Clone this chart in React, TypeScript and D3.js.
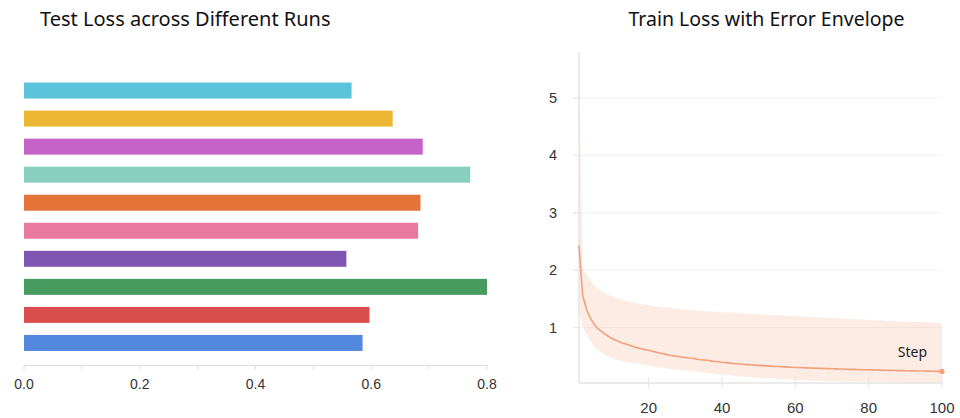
import React from "react";
import * as d3 from "d3";

const runs = ["Run 10", "Run 9", "Run 8", "Run 7", "Run 6", "Run 5", "Run 4", "Run 3", "Run 2", "Run 1"];
const testLoss = [0.566, 0.637, 0.689, 0.771, 0.685, 0.681, 0.557, 0.8, 0.597, 0.585];
const barColors = ["#5bc4da", "#ecb732", "#c563c7", "#88cfc0", "#e4733a", "#e87aa0", "#7f55b1", "#479b5f", "#da4d4d", "#5488de"];
const barTicks = [0, 0.1, 0.2, 0.3, 0.4, 0.5, 0.6, 0.7, 0.8];
const barTickLabels = [0, 0.2, 0.4, 0.6, 0.8];

const steps = d3.range(1, 101);
const meanLoss = [
  2.43, 1.56, 1.33, 1.18, 1.07, 0.99, 0.94, 0.89, 0.85, 0.81,
  0.78, 0.755, 0.73, 0.712, 0.69, 0.668, 0.648, 0.632, 0.617, 0.605,
  0.59, 0.574, 0.56, 0.546, 0.53, 0.516, 0.507, 0.497, 0.49, 0.481,
  0.472, 0.466, 0.452, 0.441, 0.437, 0.431, 0.421, 0.41, 0.406, 0.396,
  0.391, 0.386, 0.376, 0.371, 0.366, 0.36, 0.356, 0.353, 0.348, 0.343,
  0.339, 0.335, 0.33, 0.326, 0.323, 0.319, 0.316, 0.313, 0.31, 0.307,
  0.305, 0.302, 0.3, 0.297, 0.295, 0.293, 0.29, 0.288, 0.287, 0.284,
  0.282, 0.28, 0.279, 0.276, 0.274, 0.273, 0.27, 0.268, 0.268, 0.266,
  0.264, 0.262, 0.261, 0.258, 0.257, 0.256, 0.254, 0.252, 0.252, 0.25,
  0.249, 0.247, 0.246, 0.245, 0.244, 0.242, 0.241, 0.24, 0.239, 0.237,
];
const upperLoss = [
  5.8, 2.05, 1.92, 1.83, 1.75, 1.69, 1.64, 1.6, 1.57, 1.55,
  1.52, 1.5, 1.48, 1.465, 1.45, 1.435, 1.42, 1.41, 1.4, 1.39,
  1.38, 1.37, 1.36, 1.355, 1.35, 1.34, 1.335, 1.33, 1.32, 1.315,
  1.31, 1.305, 1.3, 1.295, 1.29, 1.285, 1.28, 1.277, 1.273, 1.27,
  1.266, 1.262, 1.258, 1.254, 1.25, 1.246, 1.242, 1.238, 1.234, 1.23,
  1.227, 1.224, 1.221, 1.218, 1.215, 1.212, 1.209, 1.206, 1.203, 1.2,
  1.197, 1.194, 1.19, 1.186, 1.182, 1.178, 1.175, 1.172, 1.169, 1.166,
  1.163, 1.16, 1.157, 1.154, 1.151, 1.148, 1.145, 1.142, 1.139, 1.136,
  1.133, 1.13, 1.127, 1.124, 1.121, 1.118, 1.115, 1.112, 1.109, 1.106,
  1.103, 1.1, 1.098, 1.096, 1.094, 1.092, 1.09, 1.088, 1.086, 1.084,
];
const lowerLoss = [
  1.3, 1.02, 0.88, 0.77, 0.69, 0.62, 0.57, 0.53, 0.5, 0.47,
  0.45, 0.43, 0.415, 0.4, 0.39, 0.38, 0.37, 0.36, 0.35, 0.34,
  0.33, 0.32, 0.31, 0.3, 0.29, 0.28, 0.275, 0.27, 0.26, 0.255,
  0.25, 0.24, 0.235, 0.225, 0.22, 0.21, 0.205, 0.195, 0.19, 0.18,
  0.175, 0.168, 0.162, 0.156, 0.15, 0.145, 0.14, 0.135, 0.13, 0.126,
  0.122, 0.118, 0.114, 0.11, 0.107, 0.104, 0.101, 0.098, 0.095, 0.092,
  0.09, 0.087, 0.085, 0.083, 0.081, 0.079, 0.077, 0.075, 0.073, 0.071,
  0.07, 0.068, 0.066, 0.065, 0.063, 0.062, 0.06, 0.059, 0.058, 0.056,
  0.055, 0.054, 0.053, 0.052, 0.051, 0.05, 0.049, 0.048, 0.047, 0.046,
  0.045, 0.044, 0.043, 0.042, 0.041, 0.04, 0.039, 0.038, 0.037, 0.036,
];
const lossTicksY = [1, 2, 3, 4, 5];
const stepTicks = [20, 40, 60, 80, 100];

const TITLE_FONT = "'Noto Sans', 'Open Sans', sans-serif";
const TICK_FONT = "'Liberation Sans', Arial, sans-serif";

export default function App() {
  // Left bar chart
  const xBar = d3.scaleLinear().domain([0, 0.8]).range([24, 487]);
  const yBar = d3.scaleBand<string>().domain(runs).range([70.5, 363]).paddingInner(0.43).paddingOuter(0.43);
  const barAxisY = 365.5;

  // Right line chart
  const xLine = d3.scaleLinear().domain([1, 100]).range([579, 942]);
  const yLine = d3
    .scaleLinear()
    .domain([d3.min(lowerLoss) as number, d3.max(upperLoss) as number])
    .range([383, 52]);
  const idx = steps.map((_, i) => i);
  const area = d3
    .area<number>()
    .x((i) => xLine(steps[i]))
    .y0((i) => yLine(lowerLoss[i]))
    .y1((i) => yLine(upperLoss[i]));
  const line = d3
    .line<number>()
    .x((i) => xLine(steps[i]))
    .y((i) => yLine(meanLoss[i]));
  const last = steps.length - 1;

  return (
    <svg width={960} height={418} style={{ position: "absolute", left: 0, top: 0, background: "#fff" }}>
      {/* Left chart */}
      <text x={40} y={25.5} fontFamily={TITLE_FONT} fontSize={20} fill="#111">
        Test Loss across Different Runs
      </text>
      {runs.map((r, i) => (
        <rect
          key={r}
          x={xBar(0)}
          y={yBar(r)}
          width={xBar(testLoss[i]) - xBar(0)}
          height={yBar.bandwidth()}
          fill={barColors[i]}
        />
      ))}
      <line x1={xBar(0)} x2={xBar(0.8)} y1={barAxisY} y2={barAxisY} stroke="#dcdcdc" strokeWidth={1} />
      {barTicks.map((t) => (
        <line key={t} x1={xBar(t)} x2={xBar(t)} y1={barAxisY} y2={barAxisY + 4} stroke="#dcdcdc" />
      ))}
      {barTickLabels.map((t) => (
        <text key={t} x={xBar(t)} y={389} textAnchor="middle" fontFamily={TICK_FONT} fontSize={14} fill="#333">
          {t.toFixed(1)}
        </text>
      ))}

      {/* Right chart */}
      <text x={766.5} y={25.5} textAnchor="middle" fontFamily={TITLE_FONT} fontSize={19.5} fill="#111">
        Train Loss with Error Envelope
      </text>
      {lossTicksY.map((t) => (
        <g key={t}>
          <line x1={573} x2={942} y1={yLine(t)} y2={yLine(t)} stroke="#f1f1f1" strokeWidth={1} />
          <line x1={573} x2={579} y1={yLine(t)} y2={yLine(t)} stroke="#e6e6e6" strokeWidth={1} />
          <text x={557} y={yLine(t) + 5} textAnchor="end" fontFamily={TICK_FONT} fontSize={14.5} fill="#333">
            {t}
          </text>
        </g>
      ))}
      <path d={area(idx) as string} fill="#f5a07a" fillOpacity={0.2} />
      <line x1={579} x2={579} y1={52} y2={383} stroke="#e4e4e4" strokeWidth={1.5} />
      <line x1={579} x2={942} y1={383} y2={383} stroke="#e4e4e4" strokeWidth={1.5} />
      {stepTicks.map((t) => (
        <g key={t}>
          <line x1={xLine(t)} x2={xLine(t)} y1={377} y2={388} stroke="#e4e4e4" strokeWidth={1} />
          <text x={xLine(t)} y={413} textAnchor="middle" fontFamily={TICK_FONT} fontSize={15} fill="#333">
            {t}
          </text>
        </g>
      ))}
      <path d={line(idx) as string} fill="none" stroke="#f0a07c" strokeWidth={1.6} />
      <circle cx={xLine(steps[last])} cy={yLine(meanLoss[last])} r={2.6} fill="#f0a07c" />
      <text x={927} y={357} textAnchor="end" fontFamily={TITLE_FONT} fontSize={14} fill="#222">
        Step
      </text>
    </svg>
  );
}
